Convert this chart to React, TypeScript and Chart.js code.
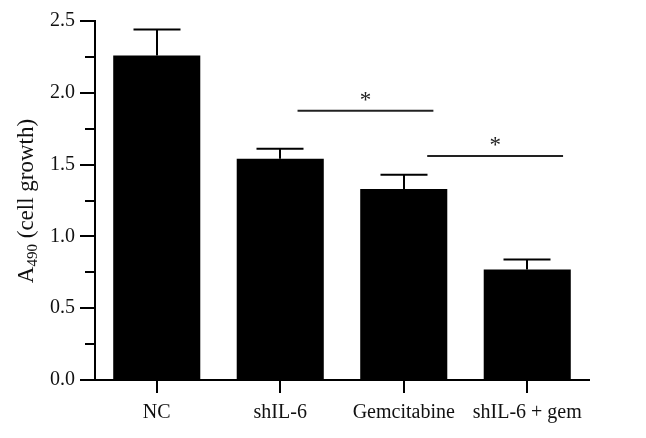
import React, { useEffect, useRef } from "react";
import { Chart, registerables } from "chart.js";

Chart.register(...registerables);

const categories = ["NC", "shIL-6", "Gemcitabine", "shIL-6 + gem"];
const means = [2.26, 1.54, 1.33, 0.77];
const errors = [0.18, 0.07, 0.1, 0.07];
const yTicks = [0, 0.5, 1.0, 1.5, 2.0, 2.5];
const sigFrom = [1.14, 2.19];
const sigTo = [2.24, 3.29];
const sigY = [1.875, 1.56];
const sigLabel = ["*", "*"];

const FONT = "'Liberation Serif', 'Times New Roman', serif";

const overlay = {
  id: "overlay",
  afterDraw(chart: any) {
    const ctx = chart.ctx;
    const x = chart.scales.x;
    const y = chart.scales.y;
    ctx.save();
    // minor ticks
    ctx.strokeStyle = "#000";
    ctx.lineWidth = 2;
    for (let v = 0.25; v < 2.5; v += 0.5) {
      const py = Math.round(y.getPixelForValue(v));
      ctx.beginPath();
      ctx.moveTo(chart.chartArea.left - 10, py);
      ctx.lineTo(chart.chartArea.left, py);
      ctx.stroke();
    }
    // error bars
    ctx.strokeStyle = "#000";
    ctx.lineWidth = 2;
    for (let i = 0; i < means.length; i++) {
      const px = Math.round(x.getPixelForValue(i));
      const top = y.getPixelForValue(means[i] + errors[i]);
      const bot = y.getPixelForValue(means[i]);
      ctx.beginPath();
      ctx.moveTo(px, bot);
      ctx.lineTo(px, top);
      ctx.moveTo(px - 23.5, top);
      ctx.lineTo(px + 23.5, top);
      ctx.stroke();
    }
    // significance
    ctx.strokeStyle = "#222";
    ctx.fillStyle = "#222";
    ctx.font = `23px ${FONT}`;
    ctx.textAlign = "center";
    ctx.textBaseline = "alphabetic";
    for (let i = 0; i < sigFrom.length; i++) {
      const x1 = x.getPixelForValue(sigFrom[i]);
      const x2 = x.getPixelForValue(sigTo[i]);
      const py = y.getPixelForValue(sigY[i]);
      ctx.beginPath();
      ctx.moveTo(x1, py);
      ctx.lineTo(x2, py);
      ctx.stroke();
      ctx.fillText(sigLabel[i], (x1 + x2) / 2, py - 4);
    }
    // y title with subscript
    ctx.fillStyle = "#111";
    ctx.textAlign = "left";
    const big = 23;
    const small = 15;
    const partA = "A";
    const partSub = "490";
    const partRest = " (cell growth)";
    ctx.font = `${big}px ${FONT}`;
    const wA = ctx.measureText(partA).width;
    const wR = ctx.measureText(partRest).width;
    ctx.font = `${small}px ${FONT}`;
    const wS = ctx.measureText(partSub).width;
    const total = wA + wS + wR;
    ctx.translate(33, 201);
    ctx.rotate(-Math.PI / 2);
    let cx = -total / 2;
    ctx.font = `${big}px ${FONT}`;
    ctx.fillText(partA, cx, 0);
    cx += wA;
    ctx.font = `${small}px ${FONT}`;
    ctx.fillText(partSub, cx, 4);
    cx += wS;
    ctx.font = `${big}px ${FONT}`;
    ctx.fillText(partRest, cx, 0);
    ctx.restore();
  },
};

export default function App() {
  const ref = useRef<HTMLCanvasElement>(null);
  useEffect(() => {
    if (!ref.current) return;
    const chart = new Chart(ref.current, {
      type: "bar",
      data: {
        labels: categories,
        datasets: [
          {
            data: means,
            backgroundColor: "#000",
            borderWidth: 0,
            categoryPercentage: 1,
            barPercentage: 0.705,
          },
        ],
      },
      options: {
        animation: false,
        responsive: false,
        devicePixelRatio: 1,
        layout: { padding: { left: 0, right: 57, top: 21, bottom: 0 } },
        plugins: { legend: { display: false }, tooltip: { enabled: false } },
        scales: {
          x: {
            offset: true,
            afterFit: (s: any) => {
              s.height = 58;
            },
            border: { display: true, color: "#000", width: 2 },
            grid: {
              display: true,
              drawOnChartArea: false,
              drawTicks: true,
              tickLength: 13,
              offset: false,
              color: "#000",
              lineWidth: 2,
            },
            ticks: {
              color: "#111",
              font: { family: FONT, size: 20 },
              padding: 8,
              maxRotation: 0,
            },
          },
          y: {
            min: 0,
            max: 2.5,
            afterFit: (s: any) => {
              s.width = 95;
            },
            afterBuildTicks: (s: any) => {
              s.ticks = yTicks.map((v) => ({ value: v }));
            },
            border: { display: true, color: "#000", width: 2 },
            grid: {
              display: true,
              drawOnChartArea: false,
              drawTicks: true,
              tickLength: 15,
              color: "#000",
              lineWidth: 2,
            },
            ticks: {
              color: "#111",
              font: { family: FONT, size: 20 },
              padding: 5,
              callback: (v: any) => Number(v).toFixed(1),
            },
          },
        },
      },
      plugins: [overlay],
    });
    return () => chart.destroy();
  }, []);
  return (
    <div style={{ position: "absolute", left: 0, top: 0, width: 646, height: 438, background: "#fff" }}>
      <canvas ref={ref} width={646} height={438} />
    </div>
  );
}
